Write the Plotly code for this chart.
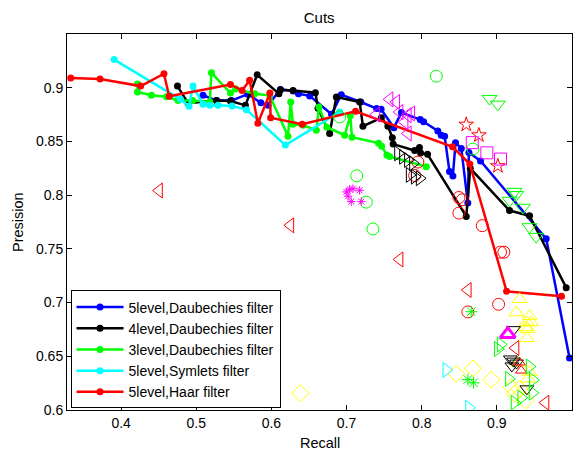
import plotly.graph_objects as go

# ---- connected precision/recall curves ----
blue_x = [0.509, 0.527, 0.547, 0.5685, 0.586, 0.5955, 0.612, 0.629, 0.636, 0.651, 0.680, 0.693,
          0.719, 0.740, 0.746, 0.763, 0.773, 0.798, 0.8025, 0.8215, 0.826, 0.8305, 0.837, 0.8415,
          0.845, 0.8527, 0.8614, 0.8628, 0.8783, 0.9657, 0.9967]
blue_y = [0.893, 0.888, 0.888, 0.894, 0.886, 0.8836, 0.8984, 0.897, 0.8943, 0.8924, 0.8753, 0.8935,
          0.8867, 0.8806, 0.880, 0.8628, 0.8769, 0.8704, 0.8683, 0.8598, 0.8558, 0.8549, 0.8219, 0.8179,
          0.8487, 0.8435, 0.7926, 0.8398, 0.8318, 0.7593, 0.6484]

black_x = [0.475, 0.489, 0.527, 0.5455, 0.5654, 0.581, 0.610, 0.612, 0.6287, 0.6585, 0.662, 0.6775,
           0.6864, 0.7174, 0.7218, 0.7463, 0.755, 0.7609, 0.762, 0.7906, 0.797, 0.7985, 0.8078,
           0.8593, 0.8646, 0.9169, 0.9435, 0.9923]
black_y = [0.9015, 0.8857, 0.888, 0.8876, 0.8836, 0.912, 0.8944, 0.898, 0.8975, 0.8954, 0.8808, 0.8574,
           0.8913, 0.8867, 0.8642, 0.872, 0.8642, 0.8535, 0.8475, 0.8415, 0.8443, 0.8392, 0.838,
           0.7802, 0.825, 0.7857, 0.7808, 0.7139]

green_x = [0.4218, 0.4218, 0.4404, 0.4604, 0.4758, 0.4954, 0.518, 0.5202, 0.5455, 0.5525, 0.5778,
           0.5977, 0.6221, 0.6257, 0.6287, 0.642, 0.6598, 0.6633, 0.6739, 0.6975, 0.705, 0.7072,
           0.7427, 0.7467, 0.7537, 0.7573, 0.8061]
green_y = [0.9035, 0.896, 0.8929, 0.8915, 0.8882, 0.8882, 0.8867, 0.9139, 0.895, 0.8989, 0.8944,
           0.8929, 0.8549, 0.8867, 0.866, 0.8651, 0.8605, 0.882, 0.8632, 0.8558, 0.8739, 0.854,
           0.8484, 0.8456, 0.8373, 0.836, 0.8265]

cyan_x = [0.3907, 0.479, 0.4904, 0.4957, 0.509, 0.518, 0.529, 0.5476, 0.5668, 0.6186, 0.6908]
cyan_y = [0.9262, 0.8892, 0.8827, 0.9015, 0.8845, 0.8836, 0.8836, 0.883, 0.8796, 0.8466, 0.8774]

red_x = [0.333, 0.372, 0.426, 0.457, 0.464, 0.5455, 0.561, 0.571, 0.582, 0.598, 0.599, 0.641,
         0.712, 0.841, 0.864, 0.913, 0.986]
red_y = [0.909, 0.908, 0.9015, 0.913, 0.892, 0.903, 0.8975, 0.907, 0.867, 0.895, 0.872, 0.866,
         0.878, 0.845, 0.829, 0.7105, 0.706]

curve_names = ["5level,Daubechies filter", "4level,Daubechies filter", "3level,Daubechies filter",
               "5level,Symlets filter", "5level,Haar filter"]

# ---- individual operating points of other methods ----
green_circle_x = [0.8194, 0.8681, 0.6908, 0.7135, 0.7263, 0.7351]
green_circle_y = [0.9107, 0.8429, 0.8728, 0.818, 0.7935, 0.7685]

green_tdown_x = [0.8903, 0.9013, 0.9235, 0.9258, 0.9169, 0.9346, 0.9435, 0.9524]
green_tdown_y = [0.8898, 0.8845, 0.8033, 0.8003, 0.795, 0.7885, 0.7704, 0.7614]

magenta_tleft_x = [0.7573, 0.7662, 0.7396, 0.7706, 0.7816, 0.7862, 0.7773, 0.7816]
magenta_tleft_y = [0.8892, 0.8867, 0.875, 0.8774, 0.8744, 0.876, 0.8681, 0.8574]

red_circle_x = [0.7949, 0.7906, 0.8495, 0.854, 0.8495, 0.8806, 0.9049, 0.9093, 0.8614, 0.9023]
red_circle_y = [0.8308, 0.8183, 0.7978, 0.7957, 0.7833, 0.7716, 0.7469, 0.7469, 0.6913, 0.6984]

black_tright_x = [0.7684, 0.775, 0.7816, 0.7883, 0.7839, 0.7906, 0.7972]
black_tright_y = [0.8389, 0.8357, 0.8327, 0.8296, 0.8188, 0.8172, 0.8157]

magenta_ast_x = [0.6997, 0.7041, 0.7086, 0.7174, 0.7063, 0.7196, 0.702]
magenta_ast_y = [0.803, 0.8055, 0.806, 0.8045, 0.794, 0.794, 0.799]

red_tleft_x = [0.4505, 0.6253, 0.7706, 0.8614, 0.9249, 0.9648]
red_tleft_y = [0.8043, 0.7719, 0.7401, 0.7117, 0.6577, 0.6068]

red_star_x = [0.8593, 0.8761, 0.9013]
red_star_y = [0.8657, 0.8558, 0.8271]

magenta_square_x = [0.8673, 0.8867, 0.9049]
magenta_square_y = [0.8489, 0.8394, 0.8336]

yellow_tup_x = [0.9302, 0.9258, 0.9435, 0.9399, 0.9457, 0.9382, 0.9412, 0.9399, 0.9289, 0.9435, 0.9412]
yellow_tup_y = [0.7031, 0.6907, 0.6873, 0.6815, 0.6815, 0.6769, 0.6753, 0.6667, 0.6438, 0.6352, 0.629]

yellow_diamond_x = [0.6386, 0.846, 0.8681, 0.8926, 0.9191, 0.9235, 0.9302, 0.9382]
yellow_diamond_y = [0.6156, 0.6336, 0.6387, 0.6283, 0.6213, 0.6151, 0.6197, 0.6089]

magenta_tup_x = [0.9146]
magenta_tup_y = [0.6706]

black_tdown_x = [0.9222, 0.9399, 0.918, 0.9222, 0.9262, 0.92]
black_tdown_y = [0.6748, 0.6197, 0.6475, 0.6455, 0.6437, 0.641]

red_tup_x = [0.9302, 0.9324]
red_tup_y = [0.6443, 0.6367]

green_tright_x = [0.9013, 0.905, 0.916, 0.9435, 0.9479, 0.9235, 0.9324, 0.9474]
green_tright_y = [0.6568, 0.661, 0.629, 0.6405, 0.628, 0.6068, 0.6114, 0.616]

green_ast_x = [0.866, 0.8614, 0.869]
green_ast_y = [0.6915, 0.6283, 0.6253]

cyan_tright_x = [0.8327, 0.8628]
cyan_tright_y = [0.6373, 0.6021]

x_ticks = [0.4, 0.5, 0.6, 0.7, 0.8, 0.9, 1.0]
x_tick_text = ["0.4", "0.5", "0.6", "0.7", "0.8", "0.9", "1"]
y_ticks = [0.6, 0.65, 0.7, 0.75, 0.8, 0.85, 0.9]
y_tick_text = ["0.6", "0.65", "0.7", "0.75", "0.8", "0.85", "0.9"]

FONT = "Liberation Sans, Arial, Helvetica, sans-serif"

fig = go.Figure()

curves = [
    (blue_x, blue_y, "#0000ff"),
    (black_x, black_y, "#000000"),
    (green_x, green_y, "#00ff00"),
    (cyan_x, cyan_y, "#00ffff"),
    (red_x, red_y, "#ff0000"),
]
for i, (xs, ys, col) in enumerate(curves):
    fig.add_trace(go.Scatter(
        x=xs, y=ys, mode="lines+markers", name=curve_names[i],
        line=dict(color=col, width=2.5),
        marker=dict(color=col, size=7),
    ))

points = [
    (green_circle_x, green_circle_y, "circle-open", "#00ff00", 12),
    (green_tdown_x, green_tdown_y, "triangle-down-open", "#00ff00", 13),
    (magenta_tleft_x, magenta_tleft_y, "triangle-left-open", "#ff00ff", 13),
    (red_circle_x, red_circle_y, "circle-open", "#ff0000", 12),
    (black_tright_x, black_tright_y, "triangle-right-open", "#000000", 13),
    (magenta_ast_x, magenta_ast_y, "asterisk-open", "#ff00ff", 7),
    (red_tleft_x, red_tleft_y, "triangle-left-open", "#ff0000", 13),
    (red_star_x, red_star_y, "star-open", "#ff0000", 11),
    (magenta_square_x, magenta_square_y, "square-open", "#ff00ff", 12),
    (yellow_tup_x, yellow_tup_y, "triangle-up-open", "#ffff00", 13),
    (yellow_diamond_x, yellow_diamond_y, "diamond-open", "#ffff00", 13),
    (black_tdown_x, black_tdown_y, "triangle-down-open", "#000000", 12),
    (red_tup_x, red_tup_y, "triangle-up-open", "#ff0000", 10),
    (green_tright_x, green_tright_y, "triangle-right-open", "#00ff00", 13),
    (green_ast_x, green_ast_y, "asterisk-open", "#00ff00", 10),
    (cyan_tright_x, cyan_tright_y, "triangle-right-open", "#00ffff", 13),
]
for xs, ys, sym, col, sz in points:
    fig.add_trace(go.Scatter(
        x=xs, y=ys, mode="markers", showlegend=False,
        marker=dict(symbol=sym, color=col, size=sz, line=dict(color=col, width=1)),
    ))

# thick-edged magenta triangle
fig.add_trace(go.Scatter(
    x=magenta_tup_x, y=magenta_tup_y, mode="markers", showlegend=False,
    marker=dict(symbol="triangle-up-open", color="#ff00ff", size=13,
                line=dict(color="#ff00ff", width=3)),
))

axis_common = dict(
    showline=True, linecolor="black", linewidth=1, mirror="allticks",
    ticks="inside", ticklen=5, tickcolor="black", tickwidth=1,
    showgrid=False, zeroline=False,
    tickfont=dict(family=FONT, size=14, color="black"),
)

fig.update_xaxes(range=[0.328, 1.0], tickvals=x_ticks, ticktext=x_tick_text, **axis_common)
fig.update_yaxes(range=[0.6, 0.95], tickvals=y_ticks, ticktext=y_tick_text, **axis_common)

fig.update_layout(
    width=574, height=454,
    margin=dict(l=67, r=2, t=34, b=44),
    paper_bgcolor="white", plot_bgcolor="white",
    font=dict(family=FONT, size=14, color="black"),
    title=dict(text="Cuts", x=0.556, xanchor="center", y=1 - 18 / 454, yanchor="middle",
               font=dict(family=FONT, size=15, color="black")),
    showlegend=True,
    legend=dict(
        x=0.007, y=0.318, xanchor="left", yanchor="top",
        bgcolor="white", bordercolor="black", borderwidth=1,
        font=dict(family=FONT, size=14, color="black"),
        tracegroupgap=0, itemwidth=47, entrywidth=215, entrywidthmode="pixels",
    ),
    annotations=[
        dict(text="Recall", xref="paper", yref="paper", x=0.5, y=0, xanchor="center",
             yanchor="middle", yshift=-33, showarrow=False,
             font=dict(family=FONT, size=14.5, color="black")),
        dict(text="Presision", xref="paper", yref="paper", x=0, y=0.5, xanchor="center",
             yanchor="middle", xshift=-49, textangle=-90, showarrow=False,
             font=dict(family=FONT, size=14.5, color="black")),
    ],
)

fig.write_html("out.html")
